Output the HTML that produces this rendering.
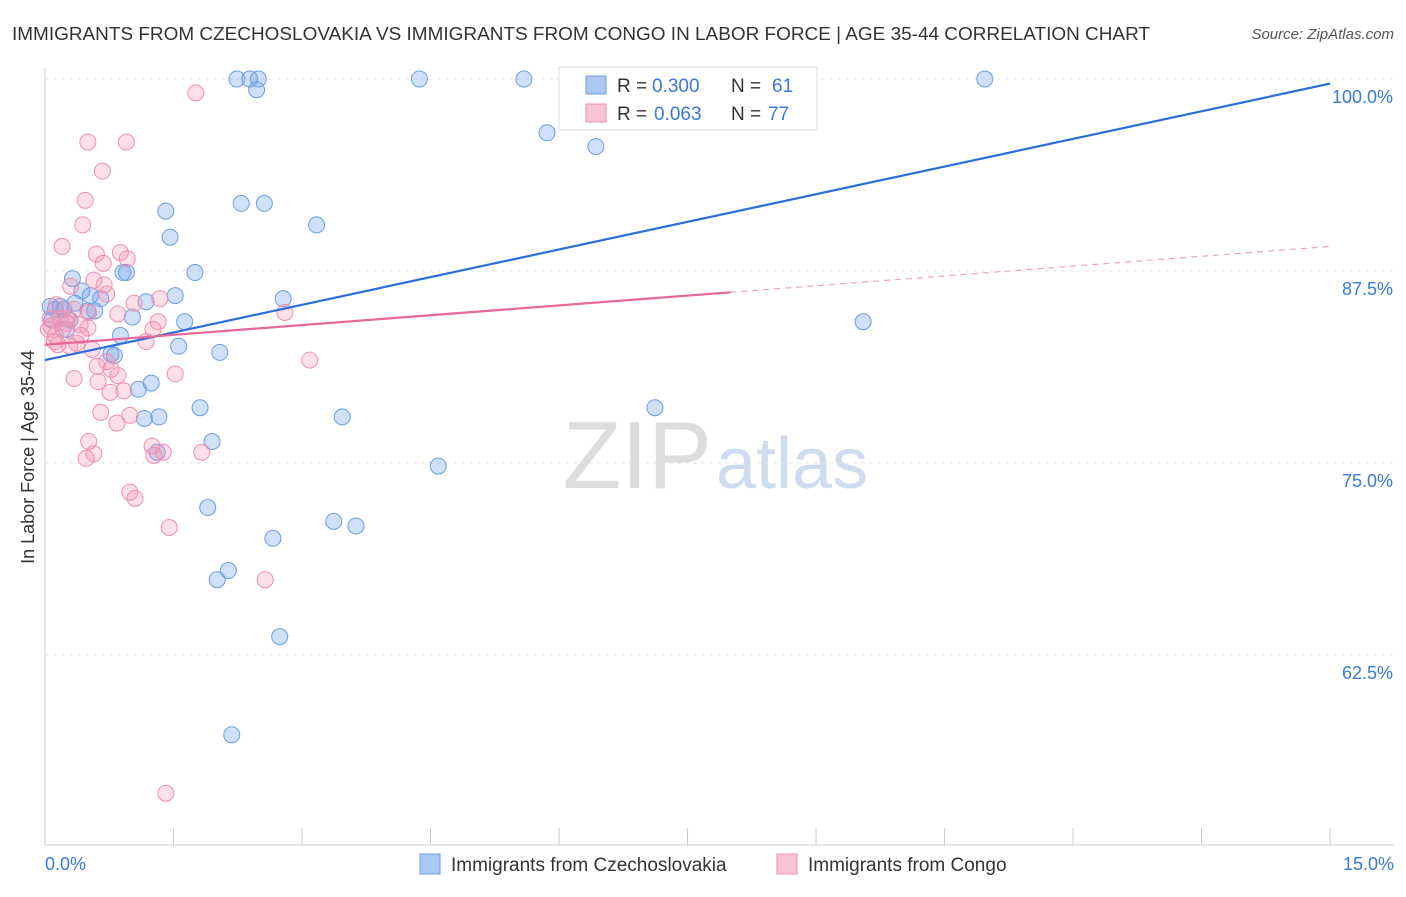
<!DOCTYPE html>
<html><head><meta charset="utf-8"><style>
body{margin:0;background:#fff;font-family:"Liberation Sans",sans-serif;}
svg text{font-family:"Liberation Sans",sans-serif;}
</style></head><body>
<svg id="chart" width="1406" height="892">
<text x="12" y="40" font-size="18" fill="#333" textLength="1138" lengthAdjust="spacingAndGlyphs">IMMIGRANTS FROM CZECHOSLOVAKIA VS IMMIGRANTS FROM CONGO IN LABOR FORCE | AGE 35-44 CORRELATION CHART</text>
<text x="1394" y="39" font-size="15" fill="#555" font-style="italic" text-anchor="end">Source: ZipAtlas.com</text>
<text x="712" y="488" font-size="96" fill="#ddd" text-anchor="end" font-family="Liberation Serif">ZIP</text>
<text x="716" y="488" font-size="72" fill="#cfdcf0">atlas</text>
<text transform="translate(34,457) rotate(-90)" font-size="18" fill="#333" text-anchor="middle">In Labor Force | Age 35-44</text>
<g id="grid"></g><g id="marks"></g>
<g>
<rect x="559" y="67" width="258" height="63" fill="#fff" stroke="#ddd"/>
<rect x="586" y="76" width="20" height="18" fill="#aac8f0" stroke="#6a9ee0"/>
<text x="617" y="92" font-size="19" fill="#333">R =</text>
<text x="652" y="92" font-size="19" fill="#3b78d8">0.300</text>
<text x="731" y="92" font-size="19" fill="#333">N =</text>
<text x="772" y="92" font-size="19" fill="#3b78d8">61</text>
<rect x="586" y="104" width="20" height="18" fill="#f8c4d4" stroke="#ee8fb0"/>
<text x="617" y="120" font-size="19" fill="#333">R =</text>
<text x="654" y="120" font-size="19" fill="#3b78d8">0.063</text>
<text x="731" y="120" font-size="19" fill="#333">N =</text>
<text x="768" y="120" font-size="19" fill="#3b78d8">77</text>
</g>
<g>
<rect x="420" y="854" width="20" height="20" fill="#aac8f0" stroke="#6a9ee0"/>
<text x="451" y="871" font-size="19" fill="#333">Immigrants from Czechoslovakia</text>
<rect x="777" y="854" width="20" height="20" fill="#f8c4d4" stroke="#ee8fb0"/>
<text x="808" y="871" font-size="19" fill="#333">Immigrants from Congo</text>
</g>
</svg>
<script>
const xTicks=[0,1.5,3,4.5,6,7.5,9,10.5,12,13.5,15];
const yTicks=[62.5,75,87.5,100];
const yTickLabels=["62.5%","75.0%","87.5%","100.0%"];
const xEndLabels=["0.0%","15.0%"];
const blueX=[2.24,2.39,2.49,2.47,4.37,5.59,8.45,10.97,5.86,6.43,1.41,2.29,2.56,3.17,1.46,0.32,0.95,0.91,1.75,0.43,0.65,1.18,1.52,2.78,0.12,0.22,0.50,0.58,1.02,1.63,0.88,1.56,0.77,0.81,2.04,9.55,1.24,1.09,1.81,1.16,1.33,3.47,7.12,1.95,1.31,4.59,1.90,3.37,3.63,2.66,2.14,2.01,2.74,2.18,0.18,0.35,0.06,0.53,0.29,0.08,0.25];
const blueY=[100,100,100,99.3,100,100,100,100,96.5,95.6,91.4,91.9,91.9,90.5,89.7,87.0,87.4,87.4,87.4,86.2,85.7,85.5,85.9,85.7,85.0,85.0,84.9,84.9,84.5,84.2,83.3,82.6,82.1,82.0,82.2,84.2,80.2,79.8,78.6,77.9,78.0,78.0,78.6,76.4,75.7,74.8,72.1,71.2,70.9,70.1,68.0,67.4,63.7,57.3,85.2,85.4,85.2,85.9,84.3,84.3,83.7];
const pinkX=[1.76,0.50,0.95,0.67,0.47,0.44,0.20,0.60,0.88,0.68,0.96,0.57,0.30,0.69,0.72,1.34,1.04,0.13,0.34,0.51,0.85,2.80,1.32,0.18,0.25,0.41,0.07,0.50,1.26,0.42,1.18,0.11,0.37,0.29,0.55,3.09,0.72,0.61,0.77,0.85,1.52,0.34,0.62,0.76,0.92,0.65,0.99,0.84,1.25,0.51,1.38,1.83,1.27,0.57,0.48,0.99,1.05,1.45,2.57,1.41,0.04,0.12,0.21,0.15,0.26,0.06];
const pinkY=[99.1,95.9,95.9,94.0,92.1,90.5,89.1,88.6,88.7,88.0,88.3,86.9,86.5,86.6,86.0,85.7,85.4,85.3,85.0,84.8,84.7,84.8,84.2,84.4,84.1,84.0,83.9,83.8,83.7,83.3,82.9,82.9,82.8,82.6,82.4,81.7,81.6,81.3,81.1,80.7,80.8,80.5,80.3,79.6,79.7,78.3,78.1,77.6,76.1,76.4,75.7,75.7,75.5,75.6,75.3,73.1,72.7,70.8,67.4,53.5,83.7,83.3,83.7,82.7,84.4,84.4];
const blueTrend=[81.7,99.7];
const pinkTrend=[82.7,89.1];
const pinkSolidEnd=8.0;
const X=v=>45+v*85.67, Y=v=>79+(100-v)*15.36;
const NS="http://www.w3.org/2000/svg";
const grid=document.getElementById('grid'), marks=document.getElementById('marks');
function mk(tag,attrs,parent){const e=document.createElementNS(NS,tag);for(const k in attrs)e.setAttribute(k,attrs[k]);parent.appendChild(e);return e;}
let ax=mk('line',{x1:45,y1:845,x2:1394,y2:845,stroke:'#ccc'},grid);


let ay=mk('line',{x1:45,y1:68,x2:45,y2:845,stroke:'#ccc'},grid);


xTicks.forEach(t=>{const l=mk('line',{x1:X(t),y1:828,x2:X(t),y2:845,stroke:'#ccc'},grid);

});
yTicks.forEach((t,i)=>{const l=mk('line',{x1:45,y1:Y(t),x2:1394,y2:Y(t),stroke:'#e4e4e4','stroke-dasharray':'4,4'},grid);


const tx=mk('text',{x:1393,y:Y(t)+24,'font-size':18,fill:'#3b78d8','text-anchor':'end'},grid);tx.textContent=yTickLabels[i];

});
[[0,45,'start'],[1,1394,'end']].forEach(([i,x,a])=>{const tx=mk('text',{x:x,y:870,'font-size':18,fill:'#3b78d8','text-anchor':a},grid);tx.textContent=xEndLabels[i];

});
blueX.forEach((v,i)=>{const c=mk('circle',{cx:X(v),cy:Y(blueY[i]),r:8,fill:'rgba(120,165,235,0.35)',stroke:'#6a9ee0','stroke-width':1},marks);

});
pinkX.forEach((v,i)=>{const c=mk('circle',{cx:X(v),cy:Y(pinkY[i]),r:8,fill:'rgba(245,150,180,0.3)',stroke:'#ee8fb0','stroke-width':1},marks);

});
const pAt=x=>pinkTrend[0]+(pinkTrend[1]-pinkTrend[0])*x/15;
let bl=mk('line',{x1:X(0),y1:Y(blueTrend[0]),x2:X(15),y2:Y(blueTrend[1]),stroke:'#2a6fd6','stroke-width':2.2},marks);


let pl=mk('line',{x1:X(0),y1:Y(pAt(0)),x2:X(pinkSolidEnd),y2:Y(pAt(pinkSolidEnd)),stroke:'#e8679a','stroke-width':2.2},marks);


let pd=mk('line',{x1:X(pinkSolidEnd),y1:Y(pAt(pinkSolidEnd)),x2:X(15),y2:Y(pAt(15)),stroke:'#f0a0bc','stroke-width':1.2,'stroke-dasharray':'6,5'},marks);


</script>
</body></html>
